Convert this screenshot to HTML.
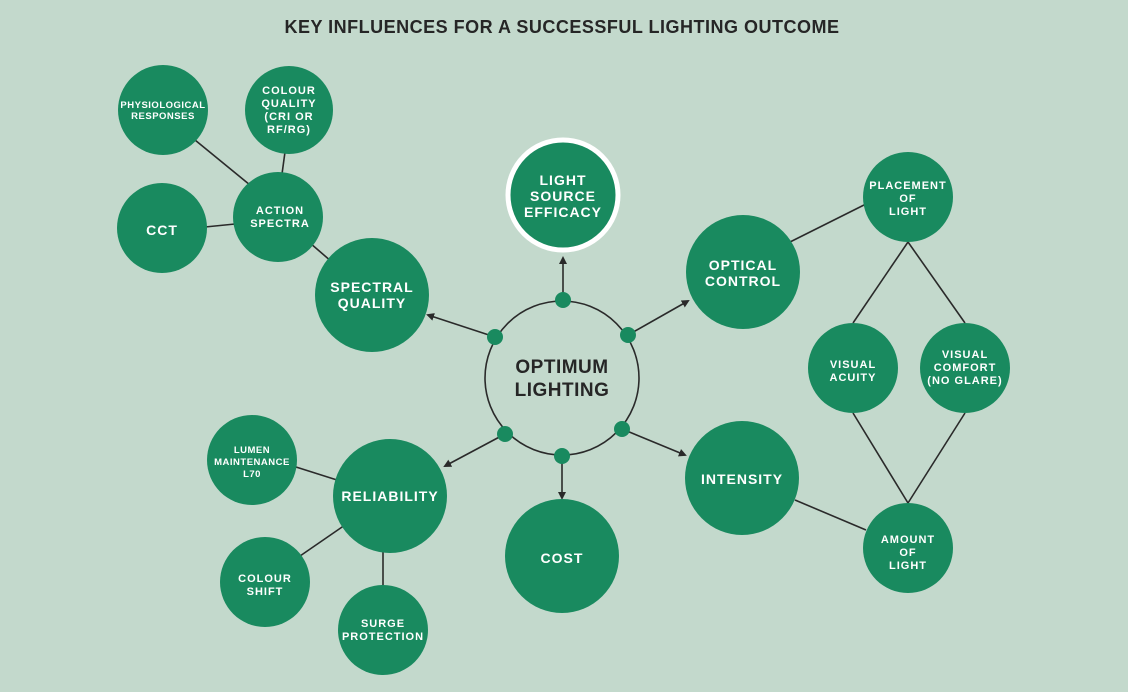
<!DOCTYPE html>
<html><head><meta charset="utf-8"><style>
html,body{margin:0;padding:0;background:#c3d9cc;}
svg{display:block}
text{font-family:"Liberation Sans",sans-serif;font-weight:bold;fill:#fff;text-anchor:middle;letter-spacing:1px}
.b{font-size:14px}.s{font-size:11px}.xs{font-size:9.5px;letter-spacing:0.5px}
</style></head><body>
<svg width="1128" height="692" viewBox="0 0 1128 692">
<defs><marker id="a" markerWidth="8" markerHeight="8" refX="6" refY="4" orient="auto" markerUnits="userSpaceOnUse"><path d="M0,0 L8,4 L0,8z" fill="#2a2a2a"/></marker></defs>
<rect width="1128" height="692" fill="#c3d9cc"/>
<text x="562" y="33" style="fill:#262626;font-size:18px;letter-spacing:0.5px">KEY INFLUENCES FOR A SUCCESSFUL LIGHTING OUTCOME</text>
<g stroke="#2a2a2a" stroke-width="1.6" fill="none">
<line x1="195" y1="140" x2="250" y2="185"/><line x1="285" y1="152" x2="282" y2="174"/>
<line x1="205" y1="227" x2="235" y2="224"/><line x1="310" y1="243" x2="332" y2="262"/>
<line x1="296" y1="467" x2="337" y2="480"/><line x1="300" y1="556" x2="345" y2="525"/>
<line x1="383" y1="586" x2="383" y2="552"/>
<line x1="790" y1="242" x2="866" y2="204"/>
<line x1="908" y1="242" x2="853" y2="323"/><line x1="908" y1="242" x2="965" y2="323"/>
<line x1="853" y1="413" x2="908" y2="503"/><line x1="965" y1="413" x2="908" y2="503"/>
<line x1="795" y1="500" x2="866" y2="530"/>
<circle cx="562" cy="378" r="77"/>
<g marker-end="url(#a)">
<line x1="563" y1="300" x2="563" y2="258"/>
<line x1="495" y1="337" x2="428" y2="315"/>
<line x1="628" y1="335" x2="688" y2="301"/>
<line x1="505" y1="434" x2="445" y2="466"/>
<line x1="562" y1="456" x2="562" y2="498"/>
<line x1="622" y1="429" x2="685" y2="455"/>
</g></g>
<g fill="#198a5f">
<circle cx="563" cy="195" r="55" stroke="#fff" stroke-width="5"/>
<circle cx="372" cy="295" r="57"/><circle cx="743" cy="272" r="57"/>
<circle cx="742" cy="478" r="57"/><circle cx="562" cy="556" r="57"/>
<circle cx="390" cy="496" r="57"/>
<circle cx="163" cy="110" r="45"/><circle cx="289" cy="110" r="44"/>
<circle cx="162" cy="228" r="45"/><circle cx="278" cy="217" r="45"/>
<circle cx="252" cy="460" r="45"/><circle cx="265" cy="582" r="45"/>
<circle cx="383" cy="630" r="45"/>
<circle cx="908" cy="197" r="45"/><circle cx="853" cy="368" r="45"/>
<circle cx="965" cy="368" r="45"/><circle cx="908" cy="548" r="45"/>
<circle cx="563" cy="300" r="8"/><circle cx="628" cy="335" r="8"/><circle cx="495" cy="337" r="8"/>
<circle cx="505" cy="434" r="8"/><circle cx="562" cy="456" r="8"/><circle cx="622" cy="429" r="8"/>
</g>
<text x="562" y="373" style="fill:#262626;font-size:19px;letter-spacing:0.5px">OPTIMUM</text>
<text x="562" y="396" style="fill:#262626;font-size:19px;letter-spacing:0.5px">LIGHTING</text>
<text class="b" x="563" y="185">LIGHT</text><text class="b" x="563" y="201">SOURCE</text><text class="b" x="563" y="217">EFFICACY</text>
<text class="b" x="372" y="292">SPECTRAL</text><text class="b" x="372" y="308">QUALITY</text>
<text class="b" x="743" y="270">OPTICAL</text><text class="b" x="743" y="286">CONTROL</text>
<text class="b" x="742" y="484">INTENSITY</text>
<text class="b" x="562" y="563">COST</text>
<text class="b" x="390" y="501">RELIABILITY</text>
<text class="xs" x="163" y="108">PHYSIOLOGICAL</text><text class="xs" x="163" y="119">RESPONSES</text>
<text class="s" x="289" y="94">COLOUR</text><text class="s" x="289" y="107">QUALITY</text><text class="s" x="289" y="120">(CRI OR</text><text class="s" x="289" y="133">RF/RG)</text>
<text class="b" x="162" y="235">CCT</text>
<text class="s" x="280" y="214">ACTION</text><text class="s" x="280" y="227">SPECTRA</text>
<text class="xs" x="252" y="453">LUMEN</text><text class="xs" x="252" y="465">MAINTENANCE</text><text class="xs" x="252" y="477">L70</text>
<text class="s" x="265" y="582">COLOUR</text><text class="s" x="265" y="595">SHIFT</text>
<text class="s" x="383" y="627">SURGE</text><text class="s" x="383" y="640">PROTECTION</text>
<text class="s" x="908" y="189">PLACEMENT</text><text class="s" x="908" y="202">OF</text><text class="s" x="908" y="215">LIGHT</text>
<text class="s" x="853" y="368">VISUAL</text><text class="s" x="853" y="381">ACUITY</text>
<text class="s" x="965" y="358">VISUAL</text><text class="s" x="965" y="371">COMFORT</text><text class="s" x="965" y="384">(NO GLARE)</text>
<text class="s" x="908" y="543">AMOUNT</text><text class="s" x="908" y="556">OF</text><text class="s" x="908" y="569">LIGHT</text>
</svg>
</body></html>
